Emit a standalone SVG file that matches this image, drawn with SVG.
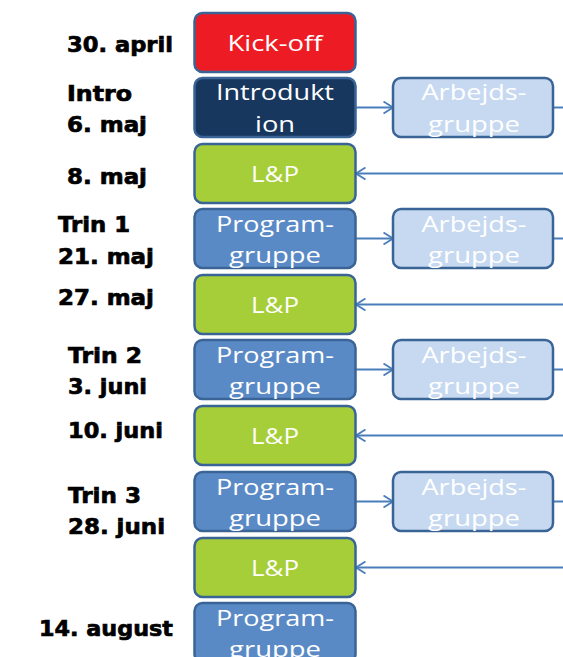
<svg xmlns="http://www.w3.org/2000/svg" width="563" height="657" viewBox="0 0 563 657">
<defs>
<style>
.lbl{font-family:"DejaVu Sans",sans-serif;font-weight:bold;font-size:22px;fill:#000;stroke:#000;stroke-width:0.7}
.bt{font-family:"Open Sans","Noto Sans",sans-serif;font-size:22px;fill:#fff;text-anchor:middle}
.box{stroke:#3a6496;stroke-width:2.5}
.red{fill:#ed1c24}
.navy{fill:#17375e}
.green{fill:#a6ce39}
.blue{fill:#5a8ac6}
.light{fill:#c6d9f1}
.conn{stroke:#4a7ebb;stroke-width:2;fill:none}
</style>
<marker id="ah" viewBox="0 0 12 14" refX="11" refY="7" markerWidth="12" markerHeight="14" markerUnits="userSpaceOnUse" orient="auto">
<path d="M1.5,1 L11,7 L1.5,13" fill="none" stroke="#4a7ebb" stroke-width="1.8"/>
</marker>
</defs>
<rect width="563" height="657" fill="#fff"/>

<g id="labels">
<text class="lbl" x="67" y="52" textLength="106" lengthAdjust="spacingAndGlyphs">30. april</text>
<text class="lbl" x="67" y="101" textLength="65" lengthAdjust="spacingAndGlyphs">Intro</text>
<text class="lbl" x="67" y="132" textLength="80" lengthAdjust="spacingAndGlyphs">6. maj</text>
<text class="lbl" x="67" y="184" textLength="80" lengthAdjust="spacingAndGlyphs">8. maj</text>
<text class="lbl" x="58" y="232" textLength="72" lengthAdjust="spacingAndGlyphs">Trin 1</text>
<text class="lbl" x="58" y="264" textLength="96" lengthAdjust="spacingAndGlyphs">21. maj</text>
<text class="lbl" x="58" y="305" textLength="96" lengthAdjust="spacingAndGlyphs">27. maj</text>
<text class="lbl" x="68" y="363" textLength="74" lengthAdjust="spacingAndGlyphs">Trin 2</text>
<text class="lbl" x="68" y="394" textLength="79" lengthAdjust="spacingAndGlyphs">3. juni</text>
<text class="lbl" x="68" y="438" textLength="95" lengthAdjust="spacingAndGlyphs">10. juni</text>
<text class="lbl" x="68" y="503" textLength="73" lengthAdjust="spacingAndGlyphs">Trin 3</text>
<text class="lbl" x="68" y="534" textLength="97" lengthAdjust="spacingAndGlyphs">28. juni</text>
<text class="lbl" x="39" y="636" textLength="134" lengthAdjust="spacingAndGlyphs">14. august</text>
</g>

<g id="connectors">
<line class="conn" x1="356" y1="107.5" x2="393" y2="107.5" marker-end="url(#ah)"/>
<line class="conn" x1="553" y1="107.5" x2="563" y2="107.5"/>
<line class="conn" x1="563" y1="173.5" x2="356" y2="173.5" marker-end="url(#ah)"/>
<line class="conn" x1="356" y1="238.5" x2="393" y2="238.5" marker-end="url(#ah)"/>
<line class="conn" x1="553" y1="238.5" x2="563" y2="238.5"/>
<line class="conn" x1="563" y1="304.5" x2="356" y2="304.5" marker-end="url(#ah)"/>
<line class="conn" x1="356" y1="369.5" x2="393" y2="369.5" marker-end="url(#ah)"/>
<line class="conn" x1="553" y1="369.5" x2="563" y2="369.5"/>
<line class="conn" x1="563" y1="435.5" x2="356" y2="435.5" marker-end="url(#ah)"/>
<line class="conn" x1="356" y1="501.5" x2="393" y2="501.5" marker-end="url(#ah)"/>
<line class="conn" x1="553" y1="501.5" x2="563" y2="501.5"/>
<line class="conn" x1="563" y1="567.5" x2="356" y2="567.5" marker-end="url(#ah)"/>
</g>

<g id="kickoff">
<rect class="box red" x="194.5" y="13" width="161" height="59" rx="8"/>
<text class="bt" x="275" y="51" textLength="95" lengthAdjust="spacingAndGlyphs">Kick-off</text>
</g>
<g id="introduktion">
<rect class="box navy" x="194.5" y="78" width="161" height="59" rx="8"/>
<text class="bt" x="275" y="100" textLength="118" lengthAdjust="spacingAndGlyphs">Introdukt</text>
<text class="bt" x="275" y="132" textLength="40" lengthAdjust="spacingAndGlyphs">ion</text>
</g>
<g id="arbejds1">
<rect class="box light" x="393" y="78" width="160" height="59" rx="8"/>
<text class="bt" x="474" y="100" textLength="105" lengthAdjust="spacingAndGlyphs">Arbejds-</text>
<text class="bt" x="474" y="132" textLength="92" lengthAdjust="spacingAndGlyphs">gruppe</text>
</g>
<g id="lp1">
<rect class="box green" x="194.5" y="144" width="161" height="59" rx="8"/>
<text class="bt" x="275" y="182" textLength="48" lengthAdjust="spacingAndGlyphs">L&amp;P</text>
</g>
<g id="program1">
<rect class="box blue" x="194.5" y="209" width="161" height="59" rx="8"/>
<text class="bt" x="275" y="232" textLength="118" lengthAdjust="spacingAndGlyphs">Program-</text>
<text class="bt" x="275" y="263" textLength="92" lengthAdjust="spacingAndGlyphs">gruppe</text>
</g>
<g id="arbejds2">
<rect class="box light" x="393" y="209" width="160" height="59" rx="8"/>
<text class="bt" x="474" y="232" textLength="105" lengthAdjust="spacingAndGlyphs">Arbejds-</text>
<text class="bt" x="474" y="263" textLength="92" lengthAdjust="spacingAndGlyphs">gruppe</text>
</g>
<g id="lp2">
<rect class="box green" x="194.5" y="275" width="161" height="59" rx="8"/>
<text class="bt" x="275" y="313" textLength="48" lengthAdjust="spacingAndGlyphs">L&amp;P</text>
</g>
<g id="program2">
<rect class="box blue" x="194.5" y="340" width="161" height="59" rx="8"/>
<text class="bt" x="275" y="363" textLength="118" lengthAdjust="spacingAndGlyphs">Program-</text>
<text class="bt" x="275" y="394" textLength="92" lengthAdjust="spacingAndGlyphs">gruppe</text>
</g>
<g id="arbejds3">
<rect class="box light" x="393" y="340" width="160" height="59" rx="8"/>
<text class="bt" x="474" y="363" textLength="105" lengthAdjust="spacingAndGlyphs">Arbejds-</text>
<text class="bt" x="474" y="394" textLength="92" lengthAdjust="spacingAndGlyphs">gruppe</text>
</g>
<g id="lp3">
<rect class="box green" x="194.5" y="406" width="161" height="59" rx="8"/>
<text class="bt" x="275" y="444" textLength="48" lengthAdjust="spacingAndGlyphs">L&amp;P</text>
</g>
<g id="program3">
<rect class="box blue" x="194.5" y="472" width="161" height="59" rx="8"/>
<text class="bt" x="275" y="495" textLength="118" lengthAdjust="spacingAndGlyphs">Program-</text>
<text class="bt" x="275" y="526" textLength="92" lengthAdjust="spacingAndGlyphs">gruppe</text>
</g>
<g id="arbejds4">
<rect class="box light" x="393" y="472" width="160" height="59" rx="8"/>
<text class="bt" x="474" y="495" textLength="105" lengthAdjust="spacingAndGlyphs">Arbejds-</text>
<text class="bt" x="474" y="526" textLength="92" lengthAdjust="spacingAndGlyphs">gruppe</text>
</g>
<g id="lp4">
<rect class="box green" x="194.5" y="538" width="161" height="59" rx="8"/>
<text class="bt" x="275" y="576" textLength="48" lengthAdjust="spacingAndGlyphs">L&amp;P</text>
</g>
<g id="program4">
<rect class="box blue" x="194.5" y="603" width="161" height="59" rx="8"/>
<text class="bt" x="275" y="626" textLength="118" lengthAdjust="spacingAndGlyphs">Program-</text>
<text class="bt" x="275" y="657" textLength="92" lengthAdjust="spacingAndGlyphs">gruppe</text>
</g>
</svg>
